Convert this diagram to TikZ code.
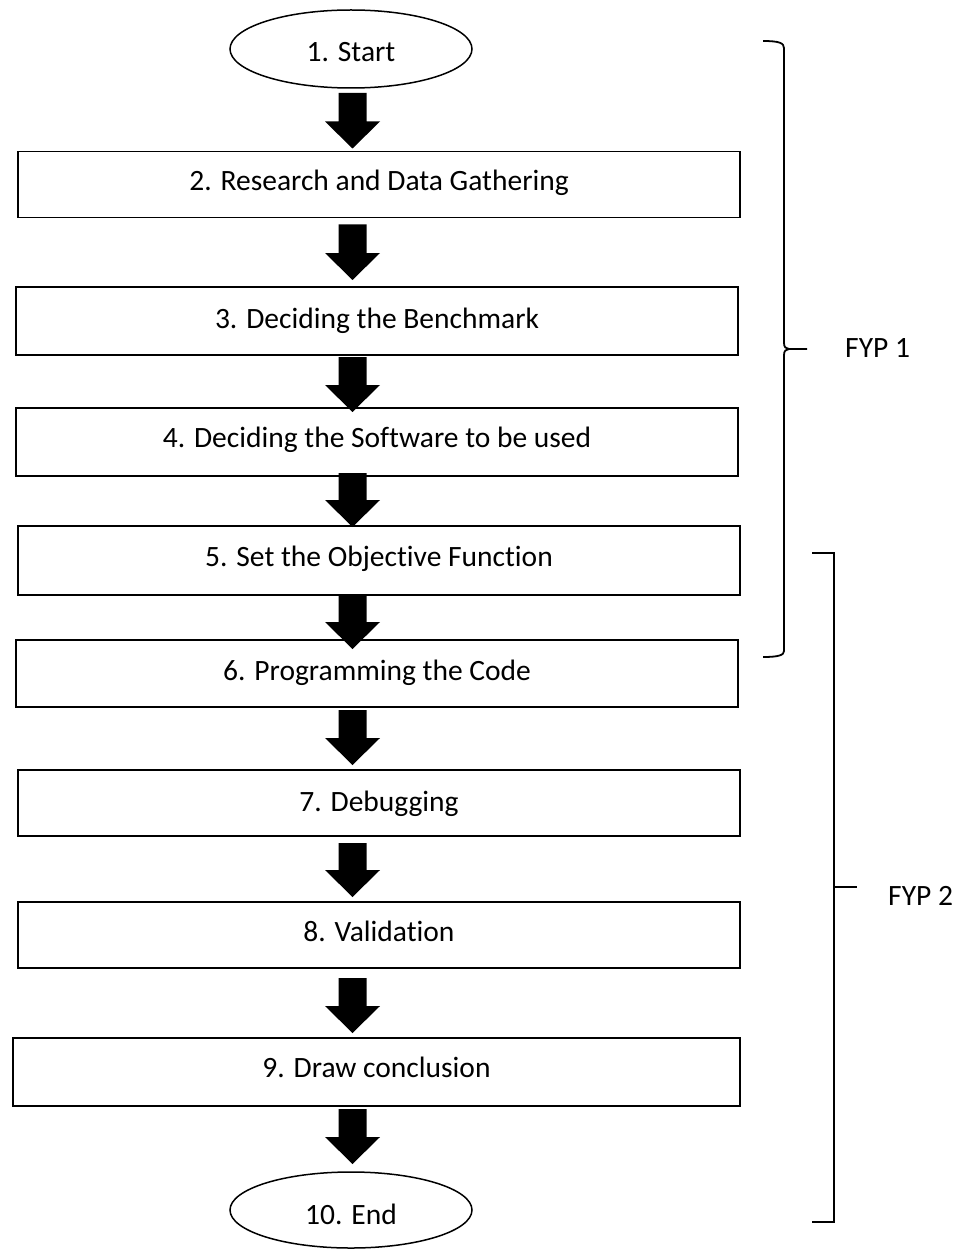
\documentclass[tikz,border=0pt]{standalone}
\usepackage{fontspec}
\setmainfont{Carlito}[Ligatures=NoCommon]
\usetikzlibrary{shapes.geometric,calc}
\newcommand{\blockarrow}[4]{%
  \fill let \p1=($(#1.south -| ax)+(0,#3)$), \p2=($(#2.north -| ax)+(0,#4)$) in
   (\x1-14pt,\y1) -- (\x1+14pt,\y1) -- (\x1+14pt,\y2+27pt) -- (\x1+27.5pt,\y2+27pt)
   -- (\x1,\y2) -- (\x1-27.5pt,\y2+27pt) -- (\x1-14pt,\y2+27pt) -- cycle;}
\begin{document}
\begin{tikzpicture}[x=1pt,y=-1pt,
  txt/.style={font=\fontsize{29.5}{35}\selectfont},
  box/.style={txt, draw, line width=1.8pt, rectangle, inner sep=0pt, outer sep=0pt, minimum width=722pt},
  term/.style={txt, draw, line width=1.5pt, ellipse, inner sep=0pt, outer sep=0pt, minimum width=242pt},
  th/.style 2 args={text height=#1pt, text depth=#2pt},
  brace/.style={line width=1.8pt}]
\useasboundingbox (0,0) rectangle (960,1249);
\coordinate (ax) at (352.5,0);

\node[term, minimum height=78pt, th={33}{7}] (s1) at (351,49) {1. Start};
\node[box, minimum height=66pt, th={36.5}{23.5}] (s2) at (379,184.5) {2. Research and Data Gathering};
\node[box, minimum height=68pt, th={37}{23}] (s3) at (377,321) {3. Deciding the Benchmark};
\node[box, minimum height=68pt, th={35}{25}] (s4) at (377,442) {4. Deciding the Software to be used};
\node[box, minimum height=69pt, th={35.5}{24.5}] (s5) at (379,560.5) {5. Set the Objective Function};
\node[box, minimum height=67pt, th={36.5}{23.5}] (s6) at (377,673.5) {6. Programming the Code};
\node[box, minimum height=66pt, th={38}{22}] (s7) at (379,803) {7. Debugging};
\node[box, minimum height=66pt, th={36}{24}] (s8) at (379,935) {8. Validation};
\node[box, minimum width=727pt, minimum height=68pt, th={35}{25}] (s9) at (376.5,1072) {9. Draw conclusion};
\node[term, minimum height=76pt, th={34}{6}] (s10) at (351,1210) {10. End};

\blockarrow{s1}{s2}{5}{-3}
\blockarrow{s2}{s3}{7}{-7}
\blockarrow{s3}{s4}{2}{4}
\blockarrow{s4}{s5}{-3}{1}
\blockarrow{s5}{s6}{-1}{9}
\blockarrow{s6}{s7}{3}{-5}
\blockarrow{s7}{s8}{7}{-5}
\blockarrow{s8}{s9}{10}{-5}
\blockarrow{s9}{s10}{3}{-8}

% FYP 1 brace
\draw[brace] (763,41) .. controls (779,41) and (784,43) .. (784,48) -- (784,343)
  .. controls (784,347) and (786,349) .. (789,349) -- (807,349)
  (789,349) .. controls (786,349) and (784,351) .. (784,355) -- (784,651)
  .. controls (784,655) and (779,657) .. (763,657);
\node[txt, anchor=base west, inner sep=0pt] (f1) at (845,357) {FYP 1};

% FYP 2 bracket
\draw[brace] (812,553) -- (834,553) -- (834,1222) -- (812,1222);
\draw[brace] (834,887) -- (857,887);
\node[txt, anchor=base west, inner sep=0pt] (f2) at (888,905) {FYP 2};
\end{tikzpicture}
\end{document}
